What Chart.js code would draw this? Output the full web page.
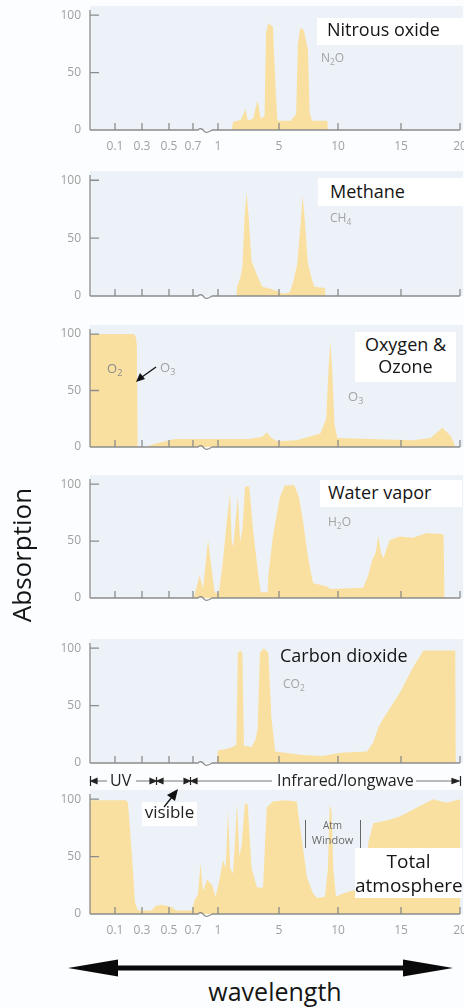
<!DOCTYPE html>
<html><head><meta charset="utf-8">
<script src="https://cdn.jsdelivr.net/npm/chart.js@4/dist/chart.umd.min.js"></script>
<style>
html,body{margin:0;padding:0;background:#fcfdfe;}
body{width:464px;height:1008px;position:relative;overflow:hidden;font-family:"Open Sans",sans-serif;}
canvas.cv{position:absolute;left:0;z-index:1;}
.box{position:absolute;background:#fff;z-index:2;}
.t{position:absolute;white-space:nowrap;line-height:1;z-index:3;color:#151515;}
.g{color:#a3a3a3;font-size:12px;}
.sub{font-size:0.7em;position:relative;top:0.35em;}
svg{position:absolute;left:0;top:0;z-index:3;}
</style></head><body>
<script>
// ---- data (wavelength in micrometres, absorption in %) ----
const TICK_WL = [0.1, 0.3, 0.5, 0.7, 1, 5, 10, 15, 20];
const TICK_LABELS = ['0.1', '0.3', '0.5', '0.7', '1', '5', '10', '15', '20'];
const Y_TICKS = [0, 50, 100];

const n2oWl  = [1.9,1.98,2.5,2.8,2.95,3.3,3.6,3.8,4.05,4.15,4.3,4.6,4.8,4.9,6.0,6.45,6.6,6.8,7.1,7.45,7.6,7.8,9.1,9.15];
const n2oAbs = [0,7,9,18,8,10,26,10,12,85,93,90,30,8,8,14,75,89,87,70,15,8,8,0];

const ch4Wl  = [2.2,2.25,2.45,2.6,2.75,2.87,3.0,3.2,3.5,3.9,4.5,4.9,5.3,5.9,6.2,6.55,6.85,7.0,7.15,7.45,7.8,8.0,8.9,8.95];
const ch4Abs = [0,8,15,25,70,89,70,30,20,8,6,4,2,3,12,28,65,87,70,28,14,8,7,0];

const o3Wl  = [0,0.24,0.255,0.262,0.268,0.33,0.4,0.55,1,3.0,3.9,4.2,4.5,4.9,6.5,8.5,9.0,9.2,9.35,9.5,9.7,9.95,16,17.5,18.5,19.2,19.5,19.6];
const o3Abs = [100,100,97,90,0,0,3,7,7,7,9,13,8,5,6,12,25,70,93,70,20,8,6,8,17,10,3,0];

const h2oWl  = [0.7,0.72,0.78,0.82,0.88,0.96,1.05,1.3,1.6,1.79,1.9,2.0,2.3,2.45,2.6,2.77,3.05,3.3,3.6,3.8,4.25,4.3,4.6,5.08,5.5,6.3,6.7,7.03,7.4,7.65,7.9,8.3,9.1,9.3,12.0,12.4,12.7,13.0,13.2,13.4,13.6,14.1,14.9,16.0,17.2,18.6,18.7];
const h2oAbs = [0,3,20,8,51,5,4,30,70,92,50,45,90,50,60,98,98,60,25,5,5,20,54,89,99,99,88,68,40,25,13,12,10,8,9,20,33,40,55,40,35,51,54,53,57,56,0];

const co2Wl  = [0.98,1.0,1.5,1.95,2.2,2.3,2.45,2.6,2.7,3.2,3.45,3.6,3.75,4.0,4.3,4.5,4.75,5.5,7.0,8.7,10.2,12.3,12.8,13.2,13.5,14.9,16.0,16.9,19.6,19.65];
const co2Abs = [0,11,12,14,16,96,98,96,15,14,20,30,96,100,96,40,10,9,7,6,9,10,18,31,37,61,83,98,98,0];

const totWl  = [0,0.18,0.196,0.21,0.226,0.248,0.27,0.37,0.4,0.45,0.52,0.56,0.69,0.72,0.76,0.79,0.82,0.87,0.93,0.97,1.1,1.33,1.5,1.66,1.8,1.98,2.1,2.25,2.4,2.55,2.77,2.95,3.2,3.56,3.95,4.08,4.2,4.6,5.5,6.5,6.78,7.37,7.88,8.2,8.9,9.15,9.3,9.45,9.6,9.83,10.2,11.0,12.2,12.4,12.8,14.1,14.9,16.4,17.7,18.9,20];
const totAbs = [99,99,97,75,50,10,3,3,7,8,6,3,3,12,17,44,20,30,25,15,30,47,40,90,40,35,60,97,50,60,97,95,40,23,23,60,93,98,99,98,76,32,18,14,15,40,95,90,40,15,17,20,22,62,79,82,85,93,100,97,100];

// ---- broken wavelength axis: piecewise mapping to axis units ----
const AXIS_WL = [0, 0.1, 0.3, 0.5, 0.7, 1, 5, 10, 15, 20];
const AXIS_U  = [0, 25, 52, 79, 103, 128, 189, 248, 311, 370];
function pos(w) {
  for (let i = 1; i < AXIS_WL.length; i++) {
    if (w <= AXIS_WL[i]) {
      const t = (w - AXIS_WL[i-1]) / (AXIS_WL[i] - AXIS_WL[i-1]);
      return AXIS_U[i-1] + t * (AXIS_U[i] - AXIS_U[i-1]);
    }
  }
  return AXIS_U[AXIS_U.length - 1];
}

const FILL = 'rgb(249,224,160)';
const PLOT_BG = 'rgb(237,242,248)';
const AXIS_COLOR = '#8c8c8c';
Chart.defaults.font.family = "'Open Sans', sans-serif";

const decoPlugin = {
  id: 'deco',
  beforeDatasetsDraw(chart) {
    const {ctx, chartArea: a} = chart;
    ctx.save();
    ctx.fillStyle = PLOT_BG;
    ctx.fillRect(a.left, a.top, a.right - a.left + 3, a.bottom - a.top);
    ctx.restore();
  },
  afterDatasetsDraw(chart) {
    const {ctx, chartArea: a, scales: {x, y}} = chart;
    ctx.save();
    ctx.strokeStyle = AXIS_COLOR;
    ctx.lineWidth = 1.3;
    ctx.beginPath();
    ctx.moveTo(a.left, a.top + 4); ctx.lineTo(a.left, a.bottom);
    [50, 100].forEach(v => { const py = y.getPixelForValue(v); ctx.moveTo(a.left, py); ctx.lineTo(a.left + 9, py); });
    const b0 = x.getPixelForValue(pos(0.76)), b1 = x.getPixelForValue(pos(0.93));
    const yb = a.bottom;
    ctx.moveTo(a.left, yb); ctx.lineTo(b0, yb);
    ctx.quadraticCurveTo(b0 + 3, yb - 3, b0 + 6, yb + 1);
    ctx.quadraticCurveTo(b0 + 8, yb + 4, b1, yb);
    ctx.lineTo(a.right, yb);
    TICK_WL.forEach(w => { const px = x.getPixelForValue(pos(w)); ctx.moveTo(px, yb); ctx.lineTo(px, yb - 7); });
    ctx.stroke();
    ctx.restore();
  }
};

function makePanel(wl, ab, y0, y100, labels) {
  const unit = (y0 - y100) / 100;
  const chartTop = Math.round(y0 - 108 * unit);
  const padTop = 6;
  const canvasTop = chartTop - padTop;
  const xH = labels ? 26 : 8;
  const H = y0 - canvasTop + xH;
  const cv = document.createElement('canvas');
  cv.className = 'cv';
  cv.width = 464; cv.height = H;
  cv.style.width = '464px'; cv.style.height = H + 'px';
  cv.style.top = canvasTop + 'px';
  document.body.appendChild(cv);
  new Chart(cv, {
    type: 'line',
    data: { datasets: [{
      data: wl.map((w, i) => ({x: pos(w), y: ab[i]})),
      fill: 'origin', backgroundColor: FILL, borderColor: 'rgba(0,0,0,0)', borderWidth: 0,
      pointRadius: 0, tension: 0
    }]},
    options: {
      responsive: false, animation: false, events: [],
      layout: { padding: {top: padTop, right: 4, left: 0, bottom: 0} },
      plugins: { legend: {display: false}, tooltip: {enabled: false} },
      scales: {
        x: {
          type: 'linear', min: 0, max: 370,
          grid: {display: false, drawTicks: false}, border: {display: false},
          afterBuildTicks: s => { s.ticks = TICK_WL.map(w => ({value: pos(w)})); },
          ticks: { display: labels, autoSkip: false, maxRotation: 0, padding: 9, color: '#a0a0a0',
                   font: {size: 12}, callback: (v, i) => TICK_LABELS[i] },
          afterFit: s => { s.height = xH; s.paddingLeft = 0; s.paddingRight = 0; }
        },
        y: {
          min: 0, max: 108,
          grid: {display: false, drawTicks: false}, border: {display: false},
          afterBuildTicks: s => { s.ticks = Y_TICKS.map(v => ({value: v})); },
          ticks: { padding: 9, color: '#a0a0a0', font: {size: 12} },
          afterFit: s => { s.width = 90; s.paddingTop = 0; s.paddingBottom = 0; }
        }
      }
    },
    plugins: [decoPlugin]
  });
}

makePanel(n2oWl, n2oAbs, 130, 15, true);
makePanel(ch4Wl, ch4Abs, 296, 180, false);
makePanel(o3Wl, o3Abs, 447, 334, false);
makePanel(h2oWl, h2oAbs, 598, 484, false);
makePanel(co2Wl, co2Abs, 763, 648, false);
makePanel(totWl, totAbs, 914, 799, true);
</script>

<!-- white label boxes -->
<div class="box" style="left:317px;top:18px;width:147px;height:27px"></div>
<div class="box" style="left:318px;top:178px;width:146px;height:28px"></div>
<div class="box" style="left:355px;top:332px;width:101px;height:50px"></div>
<div class="box" style="left:320px;top:480px;width:142px;height:27px"></div>
<div class="box" style="left:142px;top:802px;width:55px;height:24px"></div>
<div class="box" style="left:355px;top:848px;width:107px;height:50px"></div>

<!-- titles -->
<div class="t" style="left:327px;top:20px;font-size:18px">Nitrous oxide</div>
<div class="t g" style="left:321px;top:52px">N<span class="sub">2</span>O</div>
<div class="t" style="left:330px;top:182px;font-size:18px">Methane</div>
<div class="t g" style="left:330px;top:212px">CH<span class="sub">4</span></div>
<div class="t" style="left:355px;width:101px;text-align:center;top:335px;font-size:18px">Oxygen &amp;</div>
<div class="t" style="left:355px;width:101px;text-align:center;top:357px;font-size:18px">Ozone</div>
<div class="t g" style="left:107px;top:362px;font-size:13px;color:#8d8d8d">O<span class="sub">2</span></div>
<div class="t g" style="left:160px;top:361px;font-size:13px">O<span class="sub">3</span></div>
<div class="t g" style="left:348px;top:390px;font-size:13px">O<span class="sub">3</span></div>
<div class="t" style="left:328px;top:483px;font-size:18px">Water vapor</div>
<div class="t g" style="left:328px;top:516px">H<span class="sub">2</span>O</div>
<div class="t" style="left:280px;top:646px;font-size:18px">Carbon dioxide</div>
<div class="t g" style="left:283px;top:678px">CO<span class="sub">2</span></div>
<div class="t" style="left:110px;top:772px;font-size:16px;color:#222">UV</div>
<div class="t" style="left:277px;top:772px;font-size:16px;color:#222">Infrared/longwave</div>
<div class="t" style="left:140px;width:59px;text-align:center;top:803px;font-size:17px;color:#222">visible</div>
<div class="t" style="left:305px;width:55px;text-align:center;top:820px;font-size:10px;color:#6a6a6a">Atm</div>
<div class="t" style="left:305px;width:55px;text-align:center;top:834px;font-size:11px;color:#6a6a6a">Window</div>
<div class="t" style="left:355px;width:107px;text-align:center;top:852px;font-size:19px">Total</div>
<div class="t" style="left:355px;width:107px;text-align:center;top:876px;font-size:19px">atmosphere</div>
<div class="t" style="left:175px;width:200px;text-align:center;top:979px;font-size:25px">wavelength</div>
<div class="t" style="left:-54px;width:150px;text-align:center;top:542px;font-size:26px;transform:rotate(-90deg)">Absorption</div>

<svg width="464" height="1008" viewBox="0 0 464 1008">
  <!-- O3 arrow -->
  <line x1="156" y1="367" x2="142" y2="377" stroke="#111" stroke-width="1.3"/>
  <polygon points="136,382 140,373 145,379" fill="#111"/>
  <!-- spectral bands row -->
  <g stroke="#777" stroke-width="1">
    <line x1="97" y1="781" x2="107" y2="781"/>
    <line x1="136" y1="781" x2="150" y2="781"/>
    <line x1="163" y1="781" x2="183" y2="781"/>
    <line x1="197" y1="781" x2="272" y2="781"/>
    <line x1="416" y1="781" x2="452" y2="781"/>
  </g>
  <g fill="#222" stroke="#222" stroke-width="1.2">
    <line x1="90.5" y1="776" x2="90.5" y2="786"/>
    <polygon points="91,781 97,778.5 97,783.5"/>
    <line x1="156.5" y1="777" x2="156.5" y2="785"/>
    <polygon points="156,781 150,778.5 150,783.5"/>
    <polygon points="157,781 163,778.5 163,783.5"/>
    <line x1="190.5" y1="777" x2="190.5" y2="785"/>
    <polygon points="190,781 184,778.5 184,783.5"/>
    <polygon points="191,781 197,778.5 197,783.5"/>
    <polygon points="459,781 452,778.5 452,783.5"/>
    <line x1="460.5" y1="776" x2="460.5" y2="786"/>
  </g>
  <!-- visible arrow -->
  <line x1="164" y1="807" x2="172" y2="797" stroke="#111" stroke-width="1.3"/>
  <polygon points="178,789 167,795 175,801" fill="#111"/>
  <!-- atm window brackets -->
  <line x1="305.5" y1="820" x2="305.5" y2="848" stroke="#666" stroke-width="1"/>
  <line x1="360.5" y1="820" x2="360.5" y2="848" stroke="#666" stroke-width="1"/>
  <!-- big wavelength arrow -->
  <polygon points="68,968 118,959.5 118,965.5 403,965.5 403,959.5 453,968 403,976.5 403,970.5 118,970.5 118,976.5" fill="#0a0a0a"/>
</svg>
</body></html>
